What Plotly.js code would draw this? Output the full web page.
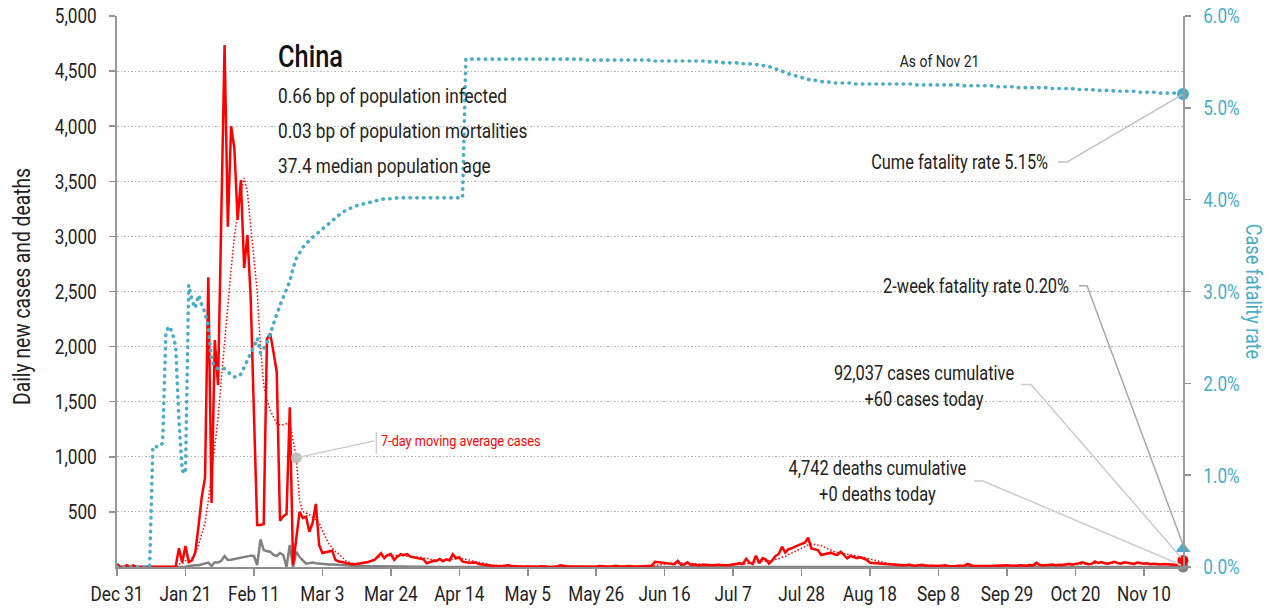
<!DOCTYPE html>
<html>
<head>
<meta charset="utf-8">
<script src="https://cdn.plot.ly/plotly-3.0.1.min.js"></script>
<style>
  html, body { margin: 0; padding: 0; background: #ffffff; }
  #chart { width: 1270px; height: 608px; }
</style>
</head>
<body>
<div id="chart"></div>
<script>
// ---------- DATA (daily, starting Dec 31, 2019) ----------
const startDate = '2019-12-31';

const dailyCases = [
  27,0,0,17,0,15,0,0,0,0,
  0,0,0,0,1,0,2,4,5,170,
  40,190,45,60,130,370,635,810,2630,580,
  2060,1650,3300,4737,3088,4000,3800,3149,3512,2713,
  3012,2453,1400,380,380,390,2070,2120,1950,1770,
  420,460,480,1450,20,250,500,445,456,320,
  400,572,200,127,135,139,148,64,50,45,
  36,30,25,25,30,30,36,45,55,64,
  94,124,80,109,118,64,94,115,110,118,
  94,88,80,75,70,33,45,57,55,73,
  52,70,60,115,79,88,48,42,39,40,
  39,27,22,18,15,12,10,8,6,12,
  18,8,5,4,3,2,5,3,2,3,
  7,4,2,1,2,4,16,8,4,5,
  4,3,6,3,2,4,3,3,8,5,
  3,2,6,12,5,3,6,8,4,3,
  5,7,4,11,12,48,44,40,37,33,
  30,25,55,20,22,42,18,22,16,15,
  21,19,18,17,20,18,16,15,19,22,
  25,33,28,75,40,27,103,33,79,70,
  30,60,100,118,184,130,163,170,184,200,
  209,221,266,169,160,154,109,115,124,130,
  115,109,139,110,79,100,90,79,88,75,
  64,39,36,33,33,30,28,25,22,20,
  18,15,16,22,14,12,17,20,13,11,
  14,10,9,12,15,10,8,7,12,10,
  14,28,14,10,11,9,12,10,8,10,
  14,11,12,15,13,10,12,16,14,12,
  18,15,38,20,14,18,16,22,15,20,
  18,24,30,22,26,33,42,30,25,28,
  51,36,45,33,30,40,48,35,30,42,
  38,32,28,40,35,30,33,26,30,25,
  22,28,25,20,22,18,30,60
];

const movingAvgCases = [
  4,4,4,6,6,9,9,5,5,2,
  2,0,0,0,0,0,1,1,2,26,
  31,58,64,80,130,200,300,400,600,850,
  1100,1350,1700,2050,2400,2700,3000,3220,3400,3530,
  3400,3100,2800,2500,2000,1650,1520,1420,1360,1300,
  1290,1290,1300,1310,1150,990,600,505,490,475,
  450,425,400,330,270,210,175,140,120,90,
  60,45,35,28,27,30,35,42,55,75,
  85,95,100,102,104,106,104,103,102,100,
  98,96,92,88,82,75,70,66,64,62,
  62,63,66,72,76,78,74,70,63,55,
  48,40,33,27,22,18,15,13,12,11,
  11,10,9,8,7,6,5,4,4,4,
  4,4,4,4,4,4,6,6,6,6,
  7,7,6,4,4,4,4,4,4,4,
  4,4,4,5,5,5,6,6,6,6,
  7,7,6,7,7,13,18,22,26,30,
  33,38,38,36,33,33,29,27,25,22,
  22,20,19,19,18,18,18,18,18,19,
  20,22,24,32,34,36,47,48,52,55,
  58,62,67,75,88,95,112,128,144,156,
  170,185,200,208,205,200,192,180,165,152,
  140,132,128,122,115,112,106,100,95,88,
  80,72,64,56,48,40,34,29,26,24,
  22,20,18,17,16,16,16,16,15,15,
  15,14,13,12,12,12,11,11,11,11,
  11,13,13,13,13,13,13,13,11,10,
  10,11,11,12,12,12,12,13,13,13,
  14,14,18,18,18,18,18,19,20,17,
  17,19,21,21,22,25,28,30,30,31,
  34,35,37,37,37,39,40,38,37,38,
  38,37,36,36,35,34,34,32,31,30,
  28,28,27,25,24,23,24,29
];

const dailyDeaths = [
  0,0,0,0,0,0,0,0,0,0,
  0,1,0,0,0,0,0,1,0,1,
  2,3,9,15,15,16,24,26,40,10,
  43,40,57,100,64,66,73,79,86,94,
  97,103,100,18,251,154,142,139,110,100,
  127,109,0,200,0,139,90,64,30,35,
  40,35,30,28,26,22,22,20,17,15,
  15,12,10,11,9,10,7,6,5,7,
  6,4,5,3,7,6,4,5,3,3,
  3,2,2,1,1,1,1,1,0,1,
  0,1,0,0,0,1,0,0,0,0,
  0,0,0,0,0,0,0,0,0,0,
  0,0,0,0,0,0,0,0,0,0,
  0,0,0,0,0,0,0,0,0,0,
  0,0,0,0,0,0,0,0,0,0,
  0,0,0,0,0,0,0,0,0,0,
  0,0,0,0,0,0,0,0,0,0,
  0,0,0,0,0,0,0,0,0,0,
  0,0,0,0,0,0,0,0,0,0,
  0,0,0,0,0,0,0,0,0,0,
  0,0,0,0,0,0,0,0,0,0,
  0,0,0,0,0,0,0,0,0,0,
  0,0,0,0,0,0,0,0,0,0,
  0,0,0,0,0,0,0,0,0,0,
  0,0,0,0,0,0,0,0,0,0,
  0,0,0,0,0,0,0,0,0,0,
  0,0,0,0,0,0,0,0,0,0,
  0,0,0,0,0,0,0,0,0,0,
  0,0,0,0,0,0,0,0,0,0,
  0,0,0,0,0,0,0,0,0,0,
  0,0,0,0,0,0,0,0,0,0,
  0,0,0,0,0,0,0,0,0,0,
  0,0,0,0,0,0,0,0
];

// cumulative case fatality rate, percent
const cumeFatalityRate = [
  0,0,0,0,0,0,0,0,0,0,
  0,1.31,1.31,1.31,1.35,2.56,2.62,2.55,2.40,1.60,
  1.05,1.02,3.07,2.90,2.82,2.96,2.85,2.77,2.62,2.25,
  2.18,2.16,2.16,2.16,2.13,2.09,2.07,2.07,2.10,2.17,
  2.25,2.32,2.40,2.49,2.33,2.38,2.44,2.54,2.66,2.75,
  2.85,2.94,3.04,3.11,3.25,3.36,3.42,3.48,3.52,3.56,
  3.59,3.62,3.65,3.69,3.72,3.75,3.78,3.81,3.83,3.86,
  3.88,3.90,3.91,3.93,3.94,3.95,3.96,3.97,3.98,3.99,
  4.00,4.00,4.01,4.01,4.01,4.01,4.02,4.02,4.02,4.02,
  4.02,4.02,4.02,4.02,4.02,4.02,4.02,4.02,4.02,4.02,
  4.02,4.02,4.02,4.02,4.02,4.02,4.02,5.53,5.53,5.53,
  5.53,5.53,5.53,5.53,5.53,5.53,5.53,5.53,5.53,5.53,
  5.53,5.53,5.53,5.53,5.53,5.53,5.53,5.53,5.53,5.53,
  5.53,5.53,5.53,5.53,5.53,5.53,5.53,5.53,5.53,5.53,
  5.53,5.53,5.53,5.53,5.52,5.52,5.52,5.52,5.52,5.52,
  5.52,5.52,5.52,5.52,5.52,5.52,5.52,5.52,5.52,5.52,
  5.52,5.52,5.52,5.52,5.51,5.51,5.51,5.51,5.51,5.51,
  5.51,5.51,5.51,5.51,5.51,5.51,5.51,5.51,5.51,5.51,
  5.51,5.51,5.50,5.50,5.50,5.50,5.49,5.49,5.49,5.49,
  5.49,5.48,5.48,5.48,5.48,5.47,5.47,5.47,5.46,5.46,
  5.45,5.44,5.42,5.41,5.40,5.38,5.37,5.36,5.35,5.34,
  5.33,5.32,5.31,5.30,5.30,5.29,5.29,5.28,5.28,5.28,
  5.27,5.27,5.27,5.27,5.27,5.27,5.26,5.26,5.26,5.26,
  5.26,5.26,5.26,5.26,5.26,5.26,5.26,5.26,5.26,5.26,
  5.26,5.26,5.26,5.26,5.26,5.25,5.25,5.25,5.25,5.25,
  5.25,5.25,5.25,5.25,5.25,5.25,5.25,5.25,5.25,5.25,
  5.24,5.24,5.24,5.24,5.24,5.24,5.24,5.24,5.24,5.24,
  5.23,5.23,5.23,5.23,5.23,5.23,5.22,5.22,5.22,5.22,
  5.22,5.22,5.22,5.22,5.22,5.22,5.21,5.21,5.21,5.21,
  5.21,5.21,5.21,5.21,5.20,5.20,5.20,5.20,5.20,5.20,
  5.19,5.19,5.19,5.19,5.19,5.19,5.18,5.18,5.18,5.18,
  5.18,5.18,5.18,5.17,5.17,5.17,5.17,5.17,5.17,5.17,
  5.16,5.16,5.16,5.16,5.16,5.16,5.15,5.15
];

const twoWeekFatalityRate = 0.20;   // percent, latest
const cumulativeCases = '92,037';
const casesToday = 60;
const cumulativeDeaths = '4,742';
const deathsToday = 0;
const asOfLabel = 'As of Nov 21';
const countryName = 'China';
const infoLines = [
  '0.66 bp of population infected',
  '0.03 bp of population mortalities',
  '37.4 median population age'
];

const tickDates = ['2019-12-31','2020-01-21','2020-02-11','2020-03-03','2020-03-24','2020-04-14',
  '2020-05-05','2020-05-26','2020-06-16','2020-07-07','2020-07-28','2020-08-18',
  '2020-09-08','2020-09-29','2020-10-20','2020-11-10'];
const tickLabels = ['Dec 31','Jan 21','Feb 11','Mar 3','Mar 24','Apr 14','May 5','May 26',
  'Jun 16','Jul 7','Jul 28','Aug 18','Sep 8','Sep 29','Oct 20','Nov 10'];
const leftTickVals = [500,1000,1500,2000,2500,3000,3500,4000,4500,5000];
const leftTickText = ['500','1,000','1,500','2,000','2,500','3,000','3,500','4,000','4,500','5,000'];
const rightTickVals = [0,1,2,3,4,5,6];
const rightTickText = ['0.0%','1.0%','2.0%','3.0%','4.0%','5.0%','6.0%'];
const maLabelIndex = 55;

// ---------- build dates ----------
const dates = [];
(function () {
  const t0 = Date.parse(startDate + 'T00:00:00Z');
  for (let i = 0; i < dailyCases.length; i++) {
    dates.push(new Date(t0 + i * 86400000).toISOString().slice(0, 10));
  }
})();
const last = dates.length - 1;
const lastDate = dates[last];

// ---------- styling ----------
const FONT = 'Roboto, "Liberation Sans", sans-serif';
const CONDENSE = 0.82;   // horizontal squeeze to imitate a condensed face
const RED = '#ff0000';
const BLUE = '#4bacc6';
const GRAY = '#808080';
const TXT = '#222222';

const traces = [
  { x: dates, y: dailyDeaths, type: 'scatter', mode: 'lines', cliponaxis: false,
    line: { color: GRAY, width: 2.5 }, hoverinfo: 'skip' },
  { x: dates, y: movingAvgCases, type: 'scatter', mode: 'lines', cliponaxis: false,
    line: { color: RED, width: 1.5, dash: '1.5px,2px' }, hoverinfo: 'skip' },
  { x: dates, y: dailyCases, type: 'scatter', mode: 'lines', cliponaxis: false,
    line: { color: RED, width: 2.5 }, hoverinfo: 'skip' },
  { x: [dates[maLabelIndex]], y: [movingAvgCases[maLabelIndex]], type: 'scatter', mode: 'markers',
    cliponaxis: false, marker: { color: '#bfbfbf', size: 11 }, hoverinfo: 'skip' },
  { x: [lastDate], y: [dailyDeaths[last]], type: 'scatter', mode: 'markers', cliponaxis: false,
    marker: { color: GRAY, size: 11 }, hoverinfo: 'skip' },
  { x: [lastDate], y: [dailyCases[last]], type: 'scatter', mode: 'markers', cliponaxis: false,
    marker: { color: RED, size: 11 }, hoverinfo: 'skip' },
  { x: dates, y: cumeFatalityRate, type: 'scatter', mode: 'lines', yaxis: 'y2', cliponaxis: false,
    line: { color: BLUE, width: 3.6, dash: '0.4px,6.4px' }, hoverinfo: 'skip' },
  { x: [lastDate], y: [cumeFatalityRate[last]], type: 'scatter', mode: 'markers', yaxis: 'y2',
    cliponaxis: false, marker: { color: BLUE, size: 12 }, hoverinfo: 'skip' },
  { x: [lastDate], y: [twoWeekFatalityRate], type: 'scatter', mode: 'markers', yaxis: 'y2',
    cliponaxis: false, marker: { color: BLUE, size: 13, symbol: 'triangle-up' }, hoverinfo: 'skip' }
];

function connector(yref, yval, pts, color) {
  let p = 'M ' + pts[0][0] + ' ' + pts[0][1];
  for (let i = 1; i < pts.length; i++) p += ' L ' + pts[i][0] + ' ' + pts[i][1];
  return { type: 'path', xref: 'x', yref: yref, xsizemode: 'pixel', ysizemode: 'pixel',
    xanchor: lastDate, yanchor: yval, path: p, line: { color: color, width: 1.5 }, layer: 'above' };
}

const shapes = [
  connector('y2', cumeFatalityRate[last], [[-125, -68], [-116, -68], [0, 0]], '#c0c0c0'),
  connector('y2', twoWeekFatalityRate, [[-104, 263], [-96, 263], [0, 4]], '#a8a8a8'),
  connector('y', dailyCases[last], [[-162, 176], [-152, 176], [-2, 3]], '#cccccc'),
  connector('y', dailyDeaths[last], [[-209, 86], [-200, 86], [-2, 2]], '#cccccc'),
  { type: 'path', xref: 'x', yref: 'y', xsizemode: 'pixel', ysizemode: 'pixel',
    xanchor: dates[maLabelIndex], yanchor: movingAvgCases[maLabelIndex],
    path: 'M 0 0 L 78 17 M 80 26 L 80 4', line: { color: '#c8c8c8', width: 1.2 }, layer: 'above' }
];

const annotations = [
  { xref: 'paper', yref: 'paper', x: 0.1492, y: 0.9274, xanchor: 'left', yanchor: 'middle', align: 'left',
    text: countryName, showarrow: false, font: { family: FONT, size: 31, weight: 500, color: '#111' } },
  { xref: 'paper', yref: 'paper', x: 0.1492, y: 0.8548, xanchor: 'left', yanchor: 'middle', align: 'left',
    text: infoLines[0], showarrow: false, font: { family: FONT, size: 21, color: TXT } },
  { xref: 'paper', yref: 'paper', x: 0.1492, y: 0.7913, xanchor: 'left', yanchor: 'middle', align: 'left',
    text: infoLines[1], showarrow: false, font: { family: FONT, size: 21, color: TXT } },
  { xref: 'paper', yref: 'paper', x: 0.1492, y: 0.7278, xanchor: 'left', yanchor: 'middle', align: 'left',
    text: infoLines[2], showarrow: false, font: { family: FONT, size: 21, color: TXT } },
  { xref: 'paper', yref: 'paper', x: 0.772, y: 0.9183, xanchor: 'center', yanchor: 'middle',
    text: asOfLabel, showarrow: false, font: { family: FONT, size: 17, color: TXT } },
  { xref: 'x', yref: 'y2', x: lastDate, y: cumeFatalityRate[last], xanchor: 'right', yanchor: 'middle',
    align: 'right', xshift: -133, yshift: -68, showarrow: false,
    text: 'Cume fatality rate ' + cumeFatalityRate[last].toFixed(2) + '%',
    font: { family: FONT, size: 20, color: TXT } },
  { xref: 'x', yref: 'y2', x: lastDate, y: twoWeekFatalityRate, xanchor: 'right', yanchor: 'middle',
    align: 'right', xshift: -112, yshift: 263, showarrow: false,
    text: '2-week fatality rate ' + twoWeekFatalityRate.toFixed(2) + '%',
    font: { family: FONT, size: 20, color: TXT } },
  { xref: 'x', yref: 'y', x: lastDate, y: dailyCases[last], xanchor: 'center', yanchor: 'middle',
    xshift: -259, yshift: 174, showarrow: false, align: 'center',
    text: cumulativeCases + ' cases cumulative<br>+' + casesToday + ' cases today',
    font: { family: FONT, size: 20, color: TXT } },
  { xref: 'x', yref: 'y', x: lastDate, y: dailyDeaths[last], xanchor: 'center', yanchor: 'middle',
    xshift: -306, yshift: 86, showarrow: false, align: 'center',
    text: cumulativeDeaths + ' deaths cumulative<br>+' + deathsToday + ' deaths today',
    font: { family: FONT, size: 20, color: TXT } },
  { xref: 'x', yref: 'y', x: dates[maLabelIndex], y: movingAvgCases[maLabelIndex],
    xanchor: 'left', yanchor: 'middle', align: 'left', xshift: 83, yshift: 17, showarrow: false,
    text: '7-day moving average cases', font: { family: FONT, size: 15.5, color: RED } },
  { xref: 'paper', yref: 'paper', x: -0.0891, y: 0.508, xanchor: 'center', yanchor: 'middle',
    textangle: -90, showarrow: false, text: 'Daily new cases and deaths',
    font: { family: FONT, size: 23.5, color: TXT } },
  { xref: 'paper', yref: 'paper', x: 1.0657, y: 0.501, xanchor: 'center', yanchor: 'middle',
    textangle: 90, showarrow: false, text: 'Case fatality rate',
    font: { family: FONT, size: 22, color: BLUE } }
];

const layout = {
  width: 1270, height: 608,
  margin: { l: 117, r: 87, t: 16, b: 41, pad: 0 },
  paper_bgcolor: '#ffffff', plot_bgcolor: '#ffffff',
  showlegend: false,
  font: { family: FONT, size: 20, color: TXT },
  xaxis: {
    type: 'date', range: [startDate, lastDate],
    tickmode: 'array', tickvals: tickDates, ticktext: tickLabels,
    ticks: 'outside', ticklen: 7, tickwidth: 1.5, tickcolor: '#909090',
    showline: true, linecolor: '#909090', linewidth: 2,
    showgrid: false, zeroline: false,
    tickfont: { family: FONT, size: 21, color: TXT }, fixedrange: true
  },
  yaxis: {
    range: [0, 5000], tickmode: 'array', tickvals: leftTickVals, ticktext: leftTickText,
    ticks: 'outside', ticklen: 6, tickwidth: 1.5, tickcolor: '#909090', ticklabelstandoff: 8,
    showline: true, linecolor: '#999999', linewidth: 2,
    showgrid: true, gridcolor: '#b4b4b4', griddash: '1.5px,2px', gridwidth: 1,
    zeroline: false,
    tickfont: { family: FONT, size: 21, color: TXT }, fixedrange: true
  },
  yaxis2: {
    overlaying: 'y', side: 'right', range: [0, 6],
    tickmode: 'array', tickvals: rightTickVals, ticktext: rightTickText,
    ticks: 'outside', ticklen: 6, tickwidth: 1.5, tickcolor: '#909090', ticklabelstandoff: 8,
    showline: true, linecolor: '#999999', linewidth: 2,
    showgrid: false, zeroline: false,
    tickfont: { family: FONT, size: 21, color: BLUE }, fixedrange: true
  },
  shapes: shapes,
  annotations: annotations
};

function finishStyling(gd) {
  // squeeze all text horizontally around its anchor point
  gd.querySelectorAll('svg text').forEach(function (t) {
    const x = parseFloat(t.getAttribute('x')) || 0;
    const prev = t.getAttribute('transform') || '';
    t.setAttribute('transform', prev + ' translate(' + x + ',0) scale(' + CONDENSE + ',1) translate(' + (-x) + ',0)');
  });
  // round dots for the fatality-rate line
  gd.querySelectorAll('path.js-line').forEach(function (p) {
    if ((p.style.strokeDasharray || '').indexOf('0.4') === 0) p.style.strokeLinecap = 'round';
  });
}

Plotly.newPlot('chart', traces, layout, { displayModeBar: false, staticPlot: true })
  .then(finishStyling);
</script>
</body>
</html>
